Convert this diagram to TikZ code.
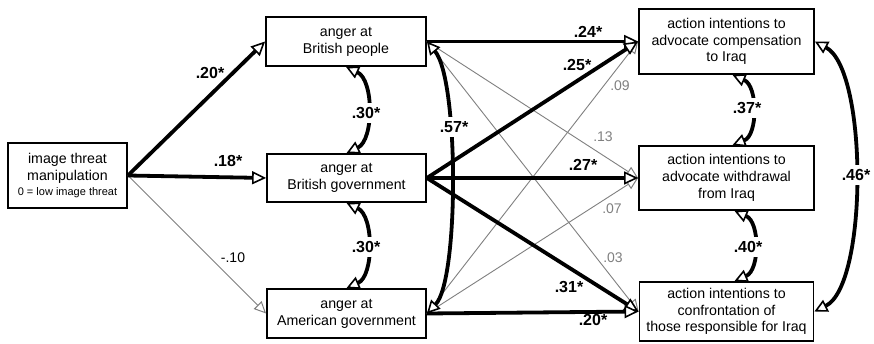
\documentclass[tikz,border=0pt]{standalone}
\usepackage{fontspec}
\setmainfont{Liberation Sans}
\usetikzlibrary{arrows.meta}
\begin{document}
\begin{tikzpicture}[x=1pt,y=-1pt,
  box/.style={draw,line width=1.8pt,fill=white,align=center,inner sep=0pt,
    font=\fontsize{14.2}{16.8}\selectfont},
  strong/.style={line width=3.8pt,
    -{Triangle[length=14pt,width=13pt,line width=1.6pt,fill=white]}},
  weak/.style={line width=0.9pt,draw=gray,
    -{Triangle[length=12pt,width=11pt,line width=1pt,fill=white]}},
  cov/.style={line width=3.8pt,
    {Triangle[length=13pt,width=13pt,line width=1.6pt,fill=white]}-{Triangle[length=13pt,width=13pt,line width=1.6pt,fill=white]}},
  lbl/.style={font=\bfseries\fontsize{16}{18}\selectfont,inner sep=1pt},
  covlbl/.style={lbl,fill=white,inner sep=4pt},
  glbl/.style={font=\fontsize{14}{16}\selectfont,text=gray,inner sep=1pt},
]
\useasboundingbox (0,0) rectangle (874,344);
\fill[white] (0,0) rectangle (874,344);

% boxes
\node[box,minimum width=119pt,minimum height=65pt] (thr) at (67.5,175.5)
  {image threat\\manipulation\\[-1pt]{\fontsize{11}{13}\selectfont 0 = low image threat}};
\node[box,minimum width=160pt,minimum height=49pt] (bp) at (346,41.5) {anger at\\British people};
\node[box,minimum width=159pt,minimum height=48pt] (bg) at (346.5,178) {anger at\\British government};
\node[box,minimum width=159pt,minimum height=49pt] (ag) at (346.5,313.5) {anger at\\American government};
\node[box,minimum width=175pt,minimum height=65pt] (comp) at (726.5,41.5) {action intentions to\\advocate compensation\\to Iraq};
\node[box,minimum width=175pt,minimum height=64pt] (wd) at (726.5,178) {action intentions to\\advocate withdrawal\\from Iraq};
\node[box,minimum width=174pt,minimum height=59pt] (conf) at (726.5,311.5) {action intentions to\\confrontation of\\those responsible for Iraq};

% weak paths
\draw[weak] (thr.east) -- (ag.west);
\draw[weak] (bp.east) -- (wd.west);
\draw[weak] (bp.east) -- (conf.west);
\draw[weak] (ag.east) -- (comp.west);
\draw[weak] (ag.east) -- (wd.west);

% strong paths
\draw[strong] (thr.east) -- (bp.west);
\draw[strong] (thr.east) -- (bg.west);
\draw[strong] (bp.east) -- (comp.west);
\draw[strong] (bg.east) -- (comp.west);
\draw[strong] (bg.east) -- (wd.west);
\draw[strong] (bg.east) -- (conf.west);
\draw[strong] (ag.east) -- (conf.west);

% covariances
\draw[cov] (bp.south) .. controls (374,80) and (374,140) .. (bg.north);
\draw[cov] (bg.south) .. controls (374,216) and (374,276) .. (ag.north);
\draw[cov] (bp.east) .. controls (459,80) and (459,280) .. (ag.east);
\draw[cov] ([xshift=6pt]comp.south) .. controls (758,86) and (758,135) .. ([xshift=6pt]wd.north);
\draw[cov] ([xshift=8pt]wd.south) .. controls (760,222) and (760,270) .. ([xshift=8pt]conf.north);
\draw[cov] (comp.east) .. controls (868,70) and (868,285) .. (conf.east);

% labels
\node[lbl] (l1) at (210,73) {.20*};
\node[lbl] (l2) at (228,161) {.18*};
\node[font=\fontsize{14}{16}\selectfont,inner sep=1pt] (l3) at (233,258) {-.10};
\node[lbl] (l4) at (588,32) {.24*};
\node[lbl] (l5) at (577,65) {.25*};
\node[glbl] (l6) at (620,86) {.09};
\node[glbl] (l7) at (603,137) {.13};
\node[lbl] (l8) at (583,165) {.27*};
\node[glbl] (l9) at (612,209) {.07};
\node[glbl] (l10) at (613,258) {.03};
\node[lbl] (l11) at (569,287) {.31*};
\node[lbl] (l12) at (593,320) {.20*};
\node[covlbl] (c1) at (366,113) {.30*};
\node[covlbl] (c2) at (366,247) {.30*};
\node[covlbl] (c3) at (454,127) {.57*};
\node[covlbl] (c4) at (747,108) {.37*};
\node[covlbl] (c5) at (748,247) {.40*};
\node[covlbl] (c6) at (856,175) {.46*};
\end{tikzpicture}
\end{document}
